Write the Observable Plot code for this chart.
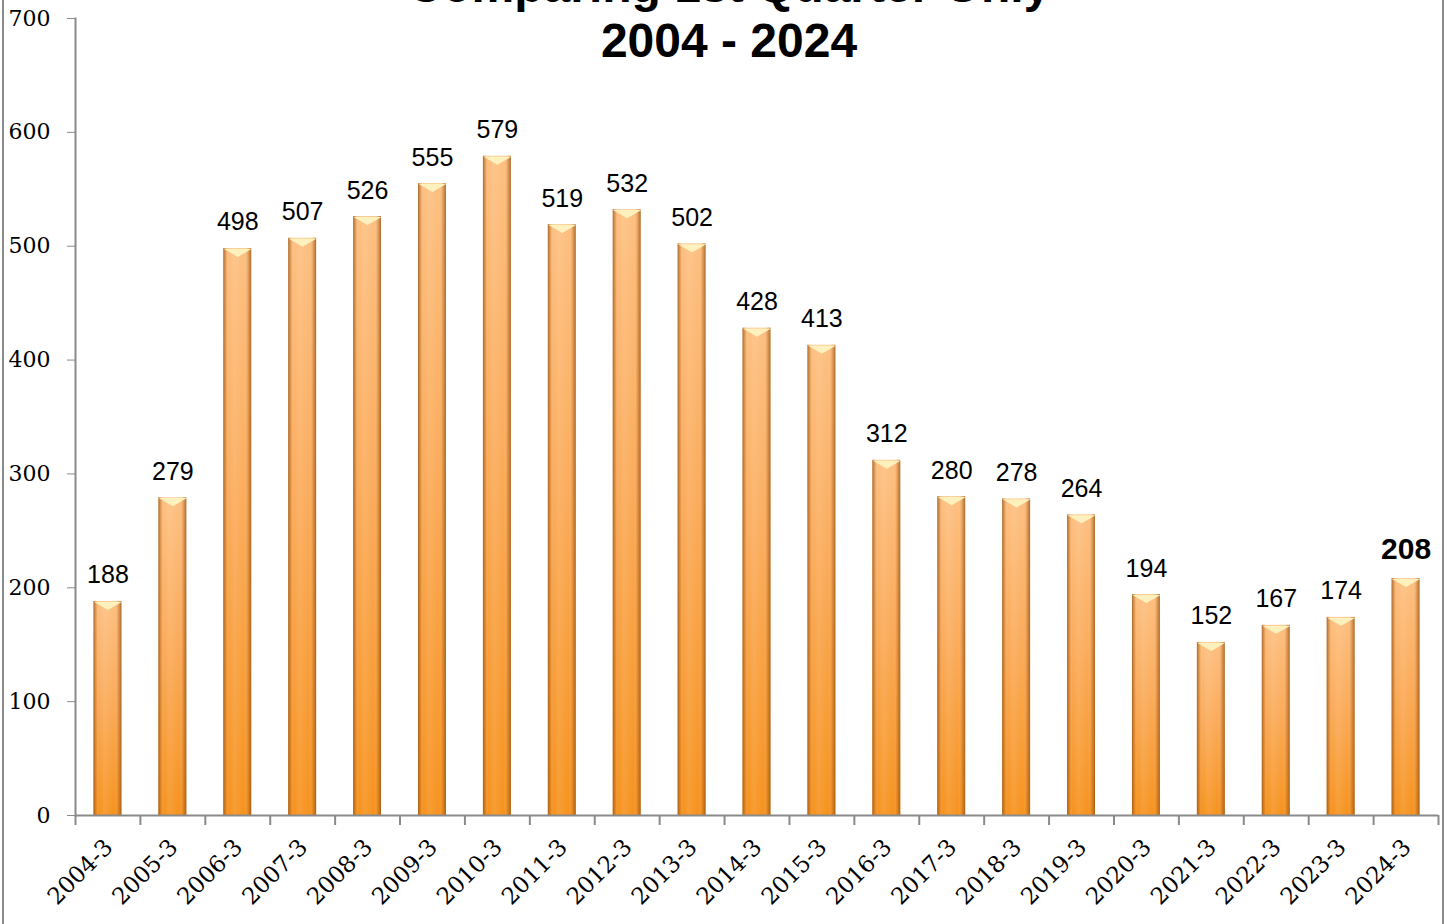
<!DOCTYPE html>
<html><head><meta charset="utf-8">
<script src="https://cdn.jsdelivr.net/npm/d3@7"></script>
<script src="https://cdn.jsdelivr.net/npm/@observablehq/plot@0.6"></script>
<style>
html,body{margin:0;padding:0;background:#fff;overflow:hidden;width:1447px;height:924px}
#wrap{position:relative;width:1447px;height:924px;overflow:hidden}
#chart{position:absolute;left:0;top:0}
.title{position:absolute;left:0;width:1458px;text-align:center;font:bold 48px "Liberation Sans",Arial,sans-serif;line-height:53px;color:#000;white-space:nowrap}
.border{position:absolute;top:0;height:924px;width:2px;background:#8a8a8a}
</style></head><body>
<div id="wrap">
<div id="chart"></div>
<div class="title" style="top:-41px">Comparing 1st Quarter Only</div>
<div class="title" style="top:14px">2004 - 2024</div>
<div class="border" style="left:2px"></div>
<div class="border" style="left:1442px"></div>
</div>
<script>
const periods = ["2004-3","2005-3","2006-3","2007-3","2008-3","2009-3","2010-3","2011-3","2012-3","2013-3","2014-3","2015-3","2016-3","2017-3","2018-3","2019-3","2020-3","2021-3","2022-3","2023-3","2024-3"];
const values = [188,279,498,507,526,555,579,519,532,502,428,413,312,280,278,264,194,152,167,174,208];
const yTicks = [0,100,200,300,400,500,600,700];
const highlight = "2024-3";

const data = periods.map((p, i) => ({period: p, value: values[i]}));
const W = 1447, H = 924, ML = 75, MR = 9, MT = 18, MB = 109;
const step = (W - ML - MR) / periods.length;
const axisGray = "#8a8a8a";

const chart = Plot.plot({
  width: W, height: H,
  marginLeft: ML, marginRight: MR, marginTop: MT, marginBottom: MB,
  style: {fontFamily: "DejaVu Serif", fontSize: "22px", color: "#000", background: "transparent"},
  x: {domain: periods, paddingInner: 0.57, paddingOuter: 0.285, round: false, label: null},
  y: {domain: [0, 700], label: null},
  marks: [
    Plot.barY(data, {x: "period", y: "value", fill: "url(#gV)"}),
    Plot.barY(data, {x: "period", y: "value", fill: "url(#gH)"}),
    Plot.dot(data, {x: "period", y: "value", symbol: "triangle", r: 7, fill: "#fff1bd", dy: 3, stroke: "none"}),
    Plot.text(data.filter(d => d.period !== highlight), {x: "period", y: "value", text: d => String(d.value), lineAnchor: "bottom", dy: -18, fontFamily: "Liberation Sans, Arial, sans-serif", fontSize: 25, fill: "#000"}),
    Plot.text(data.filter(d => d.period === highlight), {x: "period", y: "value", text: d => String(d.value), lineAnchor: "bottom", dy: -20, fontFamily: "Liberation Sans, Arial, sans-serif", fontSize: 30, fontWeight: "bold", fill: "#000"}),
    Plot.ruleY([0], {stroke: axisGray, strokeWidth: 2}),
    Plot.frame({anchor: "left", stroke: axisGray, strokeWidth: 2}),
    Plot.ruleX(periods, {x: d => d, y1: 0, y2: 0, insetBottom: -10, dx: -step / 2, stroke: axisGray, strokeWidth: 2}),
    Plot.ruleX([periods[periods.length - 1]], {x: d => d, y1: 0, y2: 0, insetBottom: -10, dx: step / 2, stroke: axisGray, strokeWidth: 2}),
    Plot.axisY({ticks: yTicks, tickSize: 8, tickPadding: 17, stroke: axisGray, tickFormat: d => String(d)}),
    Plot.axisX({tickSize: 0, tickRotate: -45, tickPadding: 28, dx: 1, fontSize: 23})
  ]
});

const ns = "http://www.w3.org/2000/svg";
const defs = document.createElementNS(ns, "defs");
defs.innerHTML = `
<linearGradient id="gV" x1="0" x2="0" y1="0" y2="1">
  <stop offset="0" stop-color="#fdbf80"/>
  <stop offset="0.45" stop-color="#fbab5a"/>
  <stop offset="1" stop-color="#f6921d"/>
</linearGradient>
<linearGradient id="gH" x1="0" x2="1" y1="0" y2="0">
  <stop offset="0" stop-color="#8a4d12" stop-opacity="0.75"/>
  <stop offset="0.1" stop-color="#b8671e" stop-opacity="0.3"/>
  <stop offset="0.2" stop-color="#ffffff" stop-opacity="0"/>
  <stop offset="0.4" stop-color="#ffffff" stop-opacity="0.1"/>
  <stop offset="0.75" stop-color="#ffffff" stop-opacity="0"/>
  <stop offset="0.88" stop-color="#b8671e" stop-opacity="0.3"/>
  <stop offset="1" stop-color="#8a4d12" stop-opacity="0.75"/>
</linearGradient>`;
chart.insertBefore(defs, chart.firstChild);

// flatten the cap triangles into a wide downward wedge
chart.querySelectorAll('g[aria-label="dot"] path').forEach(p => {
  const t = p.getAttribute("transform") || "";
  p.setAttribute("transform", t + " scale(1.5,-0.5)");
});

document.getElementById("chart").appendChild(chart);
</script>
</body></html>
